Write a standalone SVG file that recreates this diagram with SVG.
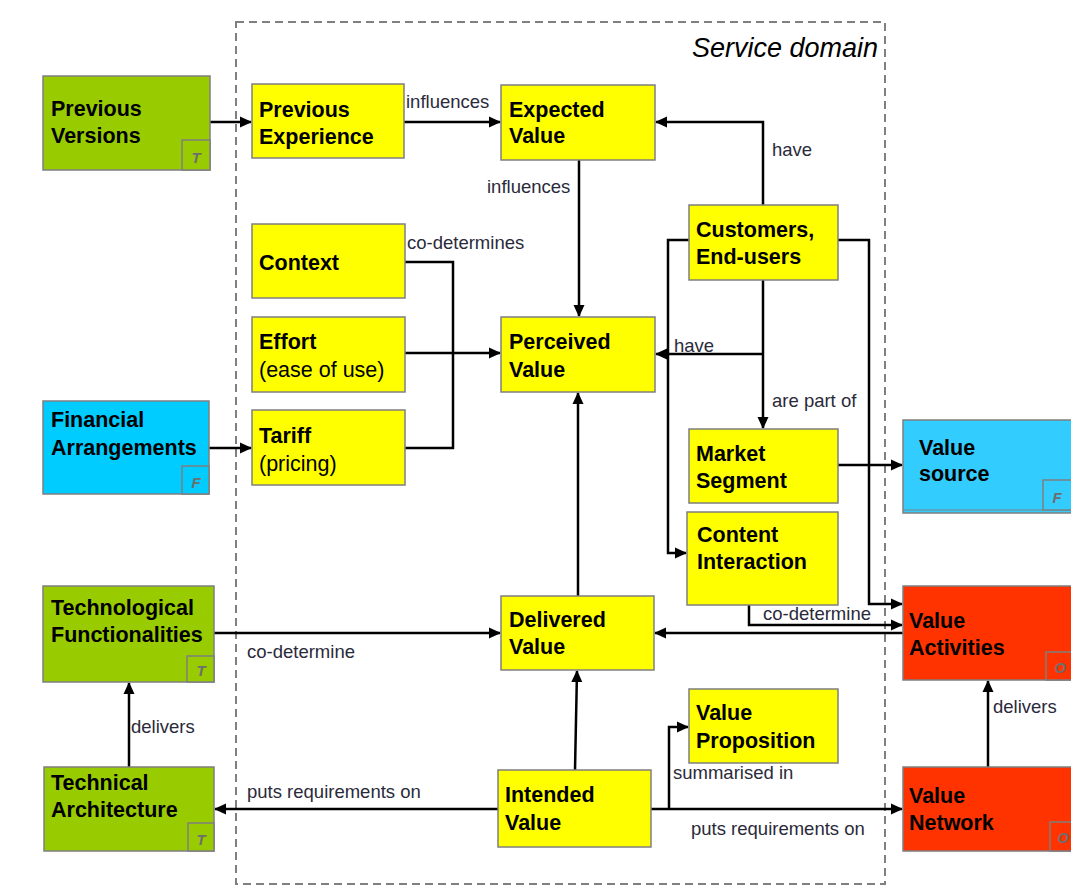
<svg xmlns="http://www.w3.org/2000/svg" width="1071" height="888" viewBox="0 0 1071 888">
<style>
.box{stroke:#7f7f7f;stroke-width:1.5}
.y{fill:#ffff00}
.g{fill:#99cc00}
.b{fill:#00ccff}
.b2{fill:#33ccff}
.r{fill:#ff3300}
.t{font-family:"Liberation Sans",Arial,sans-serif;font-weight:bold;font-size:21.5px;fill:#000}
.tn{font-family:"Liberation Sans",Arial,sans-serif;font-size:21.5px;fill:#000}
.lab{font-family:"Liberation Sans",Arial,sans-serif;font-size:18.5px;fill:#2a2a3a}
.cor{font-family:"Liberation Sans",Arial,sans-serif;font-style:italic;font-weight:bold;font-size:15px;fill:#6e6e6e;text-anchor:middle}
.c{fill:none;stroke:#000;stroke-width:2.5}
</style>
<defs>
<marker id="ah" markerWidth="12" markerHeight="12" refX="11" refY="6" orient="auto" markerUnits="userSpaceOnUse">
<path d="M0,0.5 L12,6 L0,11.5 z" fill="#000"/>
</marker>
</defs>
<rect width="1071" height="888" fill="#fff"/>
<g id="service-domain">
<rect x="236" y="22" width="649" height="862" fill="none" stroke="#808080" stroke-width="2" stroke-dasharray="8,5"/>
<text x="878" y="57" text-anchor="end" font-family="'Liberation Sans',Arial,sans-serif" font-style="italic" font-size="27px" fill="#000">Service domain</text>
</g>
<g id="connectors">
<path class="c" d="M210,122 H251" marker-end="url(#ah)"/>
<path class="c" d="M404,122 H500" marker-end="url(#ah)"/>
<path class="c" d="M579,160 V316" marker-end="url(#ah)"/>
<path class="c" d="M763,205 V122 H656" marker-end="url(#ah)"/>
<path class="c" d="M763,280 V428" marker-end="url(#ah)"/>
<path class="c" d="M763,354 H656" marker-end="url(#ah)"/>
<path class="c" d="M689,240 H668 V553 H686" marker-end="url(#ah)"/>
<path class="c" d="M838,240 H869 V604 H902" marker-end="url(#ah)"/>
<path class="c" d="M838,465 H902" marker-end="url(#ah)"/>
<path class="c" d="M749,605 V625 H902" marker-end="url(#ah)"/>
<path class="c" d="M903,633 H655" marker-end="url(#ah)"/>
<path class="c" d="M214,633 H500" marker-end="url(#ah)"/>
<path class="c" d="M578,596 V393" marker-end="url(#ah)"/>
<path class="c" d="M575,770 L577,671" marker-end="url(#ah)"/>
<path class="c" d="M498,809 H215" marker-end="url(#ah)"/>
<path class="c" d="M651,809 H902" marker-end="url(#ah)"/>
<path class="c" d="M669,809 V727 H688" marker-end="url(#ah)"/>
<path class="c" d="M129,767 V683" marker-end="url(#ah)"/>
<path class="c" d="M988,767 V681" marker-end="url(#ah)"/>
<path class="c" d="M405,262 H453 V448 H405"/>
<path class="c" d="M405,353 H500" marker-end="url(#ah)"/>
<path class="c" d="M209,448 H251" marker-end="url(#ah)"/>
<text class="lab" x="406" y="108">influences</text>
<text class="lab" x="487" y="193">influences</text>
<text class="lab" x="772" y="156">have</text>
<text class="lab" x="407" y="249">co-determines</text>
<text class="lab" x="674" y="352">have</text>
<text class="lab" x="772" y="407">are part of</text>
<text class="lab" x="763" y="620">co-determine</text>
<text class="lab" x="247" y="658">co-determine</text>
<text class="lab" x="131" y="733">delivers</text>
<text class="lab" x="247" y="798">puts requirements on</text>
<text class="lab" x="673" y="779">summarised in</text>
<text class="lab" x="691" y="835">puts requirements on</text>
<text class="lab" x="993" y="713">delivers</text>
</g>
<g id="previous-versions">
<rect class="box g" x="43" y="76" width="167" height="94"/>
<rect class="box g" x="182" y="140" width="28" height="30"/>
<text class="cor" x="196" y="163">T</text>
<text class="t" x="51" y="116">Previous</text>
<text class="t" x="51" y="143">Versions</text>
</g>
<g id="previous-experience">
<rect class="box y" x="252" y="84" width="152" height="74"/>
<text class="t" x="259" y="117">Previous</text>
<text class="t" x="259" y="144">Experience</text>
</g>
<g id="expected-value">
<rect class="box y" x="501" y="85" width="154" height="75"/>
<text class="t" x="509" y="117">Expected</text>
<text class="t" x="509" y="143">Value</text>
</g>
<g id="context">
<rect class="box y" x="252" y="224" width="153" height="74"/>
<text class="t" x="259" y="270">Context</text>
</g>
<g id="effort">
<rect class="box y" x="252" y="317" width="153" height="75"/>
<text class="t" x="259" y="349">Effort</text>
<text class="tn" x="259" y="377">(ease of use)</text>
</g>
<g id="tariff">
<rect class="box y" x="252" y="410" width="153" height="75"/>
<text class="t" x="259" y="443">Tariff</text>
<text class="tn" x="259" y="471">(pricing)</text>
</g>
<g id="perceived-value">
<rect class="box y" x="501" y="317" width="154" height="75"/>
<text class="t" x="509" y="349">Perceived</text>
<text class="t" x="509" y="377">Value</text>
</g>
<g id="customers">
<rect class="box y" x="689" y="205" width="149" height="75"/>
<text class="t" x="696" y="237">Customers,</text>
<text class="t" x="696" y="264">End-users</text>
</g>
<g id="market-segment">
<rect class="box y" x="689" y="429" width="149" height="74"/>
<text class="t" x="696" y="461">Market</text>
<text class="t" x="696" y="488">Segment</text>
</g>
<g id="content-interaction">
<rect class="box y" x="687" y="512" width="151" height="93"/>
<text class="t" x="697" y="542">Content</text>
<text class="t" x="697" y="569">Interaction</text>
</g>
<g id="financial-arrangements">
<rect class="box b" x="43" y="401" width="166" height="93"/>
<rect class="box b" x="182" y="466" width="27" height="28"/>
<text class="cor" x="196" y="488">F</text>
<text class="t" x="51" y="427">Financial</text>
<text class="t" x="51" y="455">Arrangements</text>
</g>
<g id="value-source">
<rect class="box b2" x="903" y="420" width="175" height="93"/>
<line x1="903" y1="510" x2="1075" y2="510" stroke="#7f7f7f" stroke-width="1.2"/>
<rect class="box b2" x="1043" y="480" width="35" height="30"/>
<text class="cor" x="1057" y="503">F</text>
<text class="t" x="919" y="455">Value</text>
<text class="t" x="919" y="481">source</text>
</g>
<g id="technological-functionalities">
<rect class="box g" x="43" y="586" width="171" height="96"/>
<rect class="box g" x="187" y="656" width="27" height="26"/>
<text class="cor" x="201" y="676">T</text>
<text class="t" x="51" y="615">Technological</text>
<text class="t" x="51" y="642">Functionalities</text>
</g>
<g id="delivered-value">
<rect class="box y" x="501" y="596" width="153" height="74"/>
<text class="t" x="509" y="627">Delivered</text>
<text class="t" x="509" y="654">Value</text>
</g>
<g id="value-activities">
<rect class="box r" x="903" y="586" width="175" height="94"/>
<rect class="box r" x="1046" y="652" width="32" height="28"/>
<text class="cor" x="1060" y="673">O</text>
<text class="t" x="909" y="628">Value</text>
<text class="t" x="909" y="655">Activities</text>
</g>
<g id="value-proposition">
<rect class="box y" x="689" y="689" width="149" height="74"/>
<text class="t" x="696" y="720">Value</text>
<text class="t" x="696" y="748">Proposition</text>
</g>
<g id="technical-architecture">
<rect class="box g" x="44" y="767" width="170" height="84"/>
<rect class="box g" x="188" y="823" width="26" height="28"/>
<text class="cor" x="201" y="845">T</text>
<text class="t" x="51" y="790">Technical</text>
<text class="t" x="51" y="817">Architecture</text>
</g>
<g id="intended-value">
<rect class="box y" x="498" y="770" width="153" height="77"/>
<text class="t" x="505" y="802">Intended</text>
<text class="t" x="505" y="830">Value</text>
</g>
<g id="value-network">
<rect class="box r" x="903" y="767" width="175" height="84"/>
<rect class="box r" x="1050" y="822" width="28" height="29"/>
<text class="cor" x="1063" y="843">O</text>
<text class="t" x="909" y="803">Value</text>
<text class="t" x="909" y="830">Network</text>
</g>
</svg>
